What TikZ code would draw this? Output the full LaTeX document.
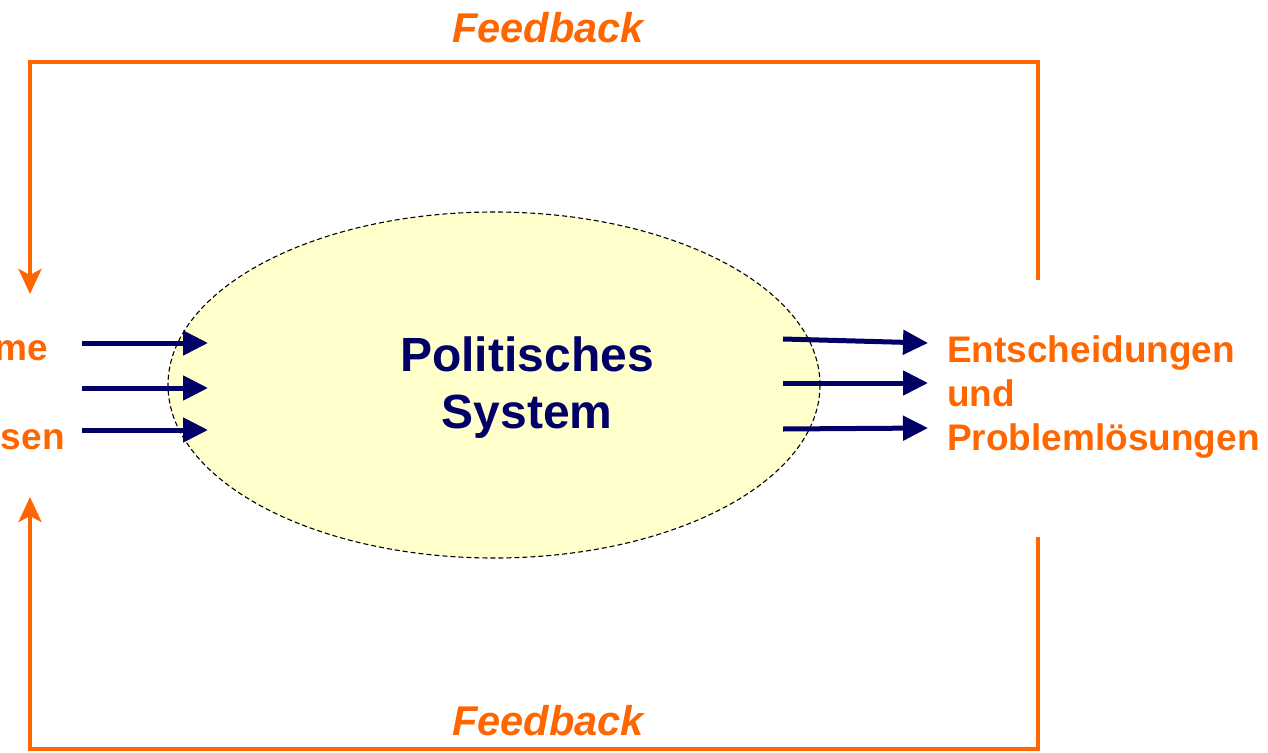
\documentclass[tikz,border=0pt]{standalone}
\usepackage{fontspec}
\setmainfont{Liberation Sans}
\usetikzlibrary{arrows.meta,shapes.geometric}
\definecolor{fborange}{HTML}{FF6600}
\definecolor{sysnavy}{HTML}{000066}
\definecolor{sysfill}{HTML}{FFFFCC}
\tikzset{
  fbline/.style={draw=fborange,line width=4pt},
  fbarrow/.style={fbline,-{Stealth[length=25pt,width=23pt,inset=6pt]}},
  fbtext/.style={text=fborange,font=\fontsize{41.6}{48}\selectfont\bfseries\itshape,inner sep=0pt},
  sidetext/.style={text=fborange,font=\fontsize{37}{44}\selectfont\bfseries,inner sep=0pt,anchor=base west},
  systext/.style={text=sysnavy,font=\fontsize{48}{56}\selectfont\bfseries,inner sep=0pt,anchor=base},
  inarrow/.style={draw=sysnavy,line width=5pt,-{Triangle[length=25pt,width=24pt]}},
}
\begin{document}
\begin{tikzpicture}[x=1pt,y=-1pt]
\useasboundingbox (0,0) rectangle (1268,752);
% system ellipse
\node[ellipse,draw=black,dash pattern=on 5pt off 3pt,line width=1.1pt,fill=sysfill,minimum width=652pt,minimum height=346pt,inner sep=0pt] (sys) at (494,385) {};
\node[systext] (pol) at (527,371) {Politisches};
\node[systext] (sy) at (527,428) {System};
% left texts (cut off at the left edge, as in the reference)
\node[sidetext] (l1) at (-120.6,360) {Probleme};
\node[sidetext] (l2) at (-120.6,404.5) {und};
\node[sidetext] (l3) at (-120.6,449) {Interessen};
% right texts
\node[sidetext] (r1) at (947,362) {Entscheidungen};
\node[sidetext] (r2) at (947,406) {und};
\node[sidetext] (r3) at (947,450) {Problemlösungen};
% input arrows
\coordinate (ia1) at (82,343); \coordinate (ib1) at (208,343);
\coordinate (ia2) at (82,388); \coordinate (ib2) at (208,388);
\coordinate (ia3) at (82,430); \coordinate (ib3) at (208,430);
\draw[inarrow] (ia1) -- (ib1);
\draw[inarrow] (ia2) -- (ib2);
\draw[inarrow] (ia3) -- (ib3);
% output arrows
\coordinate (oa1) at (783,339); \coordinate (ob1) at (928,343);
\coordinate (oa2) at (783,383); \coordinate (ob2) at (928,383);
\coordinate (oa3) at (783,429); \coordinate (ob3) at (928,428);
\draw[inarrow] (oa1) -- (ob1);
\draw[inarrow] (oa2) -- (ob2);
\draw[inarrow] (oa3) -- (ob3);
% feedback loops
\coordinate (tr) at (1038,280);
\coordinate (trc) at (1038,62);
\coordinate (tlc) at (30,62);
\coordinate (tl) at (30,294);
\draw[fbarrow] (tr) -- (trc) -- (tlc) -- (tl);
\coordinate (br) at (1038,537);
\coordinate (brc) at (1038,749);
\coordinate (blc) at (30,749);
\coordinate (bl) at (30,497);
\draw[fbarrow] (br) -- (brc) -- (blc) -- (bl);
\node[fbtext,anchor=base] (fbt) at (548,42) {Feedback};
\node[fbtext,anchor=base] (fbb) at (548,735) {Feedback};
\end{tikzpicture}
\end{document}
